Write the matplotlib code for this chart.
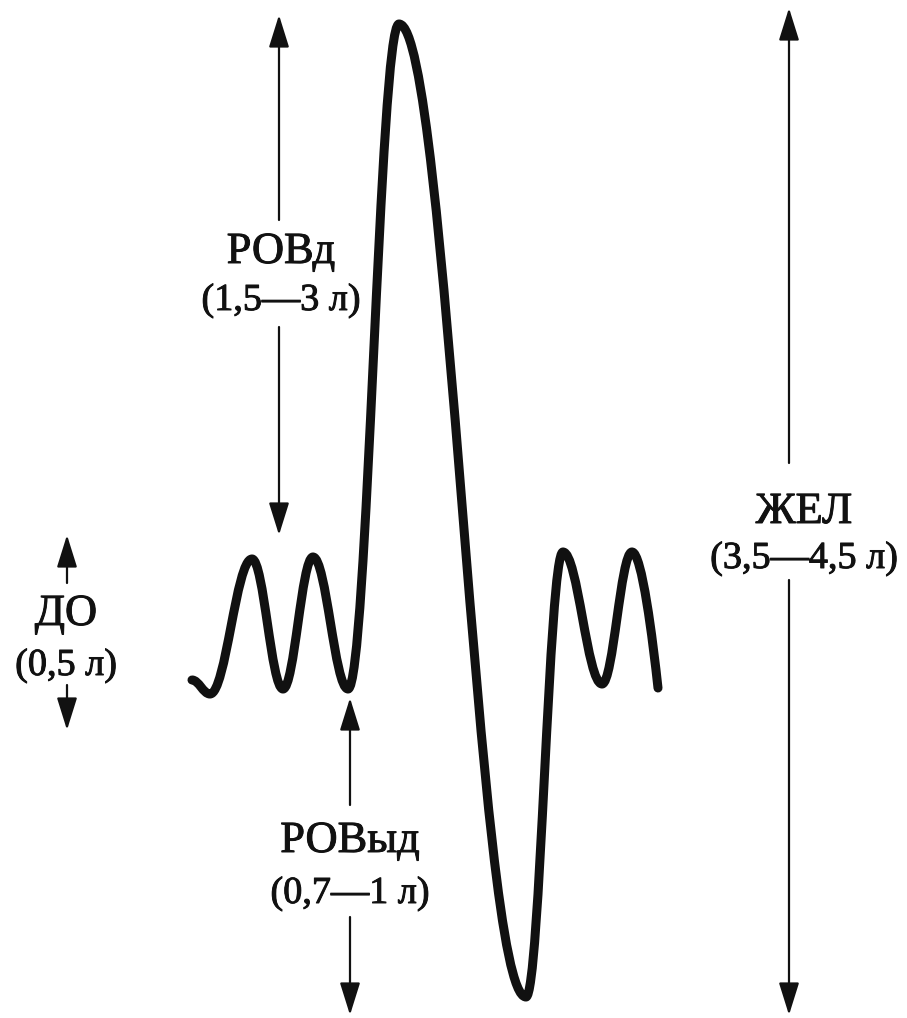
import matplotlib
matplotlib.use("Agg")
import matplotlib.pyplot as plt
import matplotlib.patheffects as pe
from matplotlib.path import Path
from matplotlib.patches import PathPatch

# spirogram trace: turning points of the curve (image pixels, y down)
trace_x = [192, 210, 252, 283, 313, 348, 399, 526, 563, 602, 632, 658]
trace_y = [680, 694, 559, 689, 557, 689, 24, 997, 552, 684, 552, 688]

# volume labels
names = ['ДО', 'РОВд', 'РОВыд', 'ЖЕЛ']
ranges = ['(0,5 л)', '(1,5—3 л)', '(0,7—1 л)', '(3,5—4,5 л)']

# layout for each label: arrow x, upper arrow (tail, tip), lower arrow (tail, tip),
# name baseline, range baseline, text centre x
arrow_x = [67, 279, 350, 789]
up_arrow = [(583, 535), (220, 15), (805, 698), (463, 8)]
down_arrow = [(685, 730), (327, 535), (917, 1015), (580, 1015)]
name_base = [625, 263, 852, 523]
range_base = [675, 310, 903, 568]
text_x = [66, 281, 350, 804]

W, H = 907, 1018
ink = '#111111'

fig = plt.figure(figsize=(W / 100, H / 100), dpi=100, facecolor='white')
ax = fig.add_axes([0, 0, 1, 1])
ax.set_xlim(0, W)
ax.set_ylim(H, 0)
ax.axis('off')

# build the smooth trace: cubic beziers with flat tangents at the turning points
k = 0.38
verts = [(trace_x[0], trace_y[0])]
codes = [Path.MOVETO]
n = len(trace_x)
for i in range(n - 1):
    x0, y0 = trace_x[i], trace_y[i]
    x1, y1 = trace_x[i + 1], trace_y[i + 1]
    dx, dy = x1 - x0, y1 - y0
    c1 = (x0 + k * dx, y0)
    if i == n - 2:
        c2 = (x1 - 0.2 * dx, y1 - 0.35 * dy)  # trace ends still falling
    else:
        c2 = (x1 - k * dx, y1)
    verts += [c1, c2, (x1, y1)]
    codes += [Path.CURVE4] * 3
ax.add_patch(PathPatch(Path(verts, codes), fill=False, edgecolor=ink, lw=6.5,
                       capstyle='round', joinstyle='round'))

# printed type in the scan is a bit heavier than the regular face
thick = [pe.withStroke(linewidth=0.7, foreground=ink)]

style = '-|>,head_length=0.8,head_width=0.25'
for i in range(len(names)):
    x = arrow_x[i]
    for tail, tip in (up_arrow[i], down_arrow[i]):
        ax.annotate('', xy=(x, tip), xytext=(x, tail),
                    arrowprops=dict(arrowstyle=style, mutation_scale=25, color=ink,
                                    lw=1.6, shrinkA=0, shrinkB=0))
    ax.text(text_x[i], name_base[i], names[i], ha='center', va='baseline',
            fontsize=32, family='Liberation Serif', color=ink, path_effects=thick)
    ax.text(text_x[i], range_base[i], ranges[i], ha='center', va='baseline',
            fontsize=27.5, family='Liberation Serif', color=ink, path_effects=thick)

fig.savefig('out.png', dpi=100, facecolor='white')
